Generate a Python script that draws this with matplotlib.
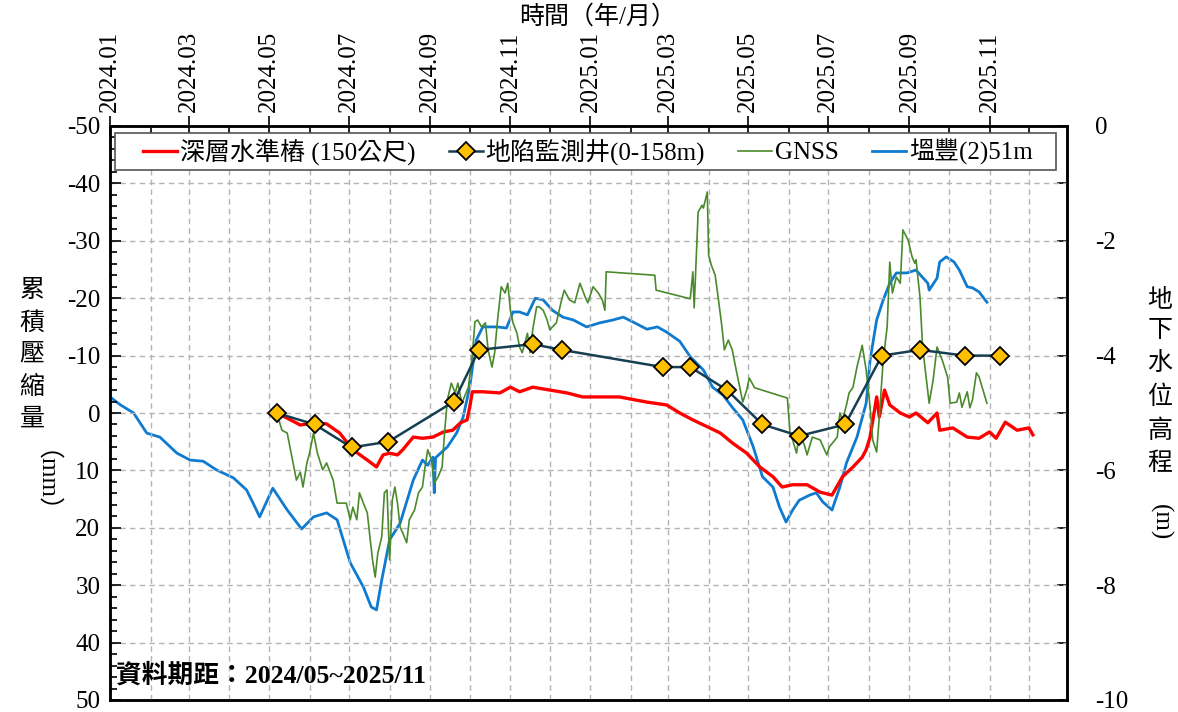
import matplotlib
matplotlib.use("Agg")
import matplotlib.pyplot as plt
import matplotlib.dates as mdates
from matplotlib.ticker import MultipleLocator, FixedLocator
from matplotlib.patches import Rectangle
import pandas as pd

plt.rcParams['font.family'] = ['Liberation Serif', 'Noto Sans CJK TC']
plt.rcParams['axes.unicode_minus'] = False

START = pd.Timestamp('2024-01-01')

# ---- data (dates as day offsets from 2024-01-01) ----
red_days = [127, 135, 145, 155, 165, 175, 185, 196, 203, 208, 213, 219, 223, 231, 238, 246, 254, 261,
            267, 272, 274, 276, 284, 297, 305, 312, 322, 335, 348, 360, 373, 388, 409, 424, 434, 444,
            455, 465, 474, 485, 495, 505, 512, 520, 531, 541, 550, 558, 566, 573, 576, 579, 584, 586,
            590, 594, 602, 609, 614, 623, 630, 632, 642, 653, 662, 670, 675, 682, 691, 700, 703]
red_vals = [0.0, 0.9, 2.1, 1.7, 1.9, 3.5, 6.4, 8.2, 9.4, 7.3, 7.0, 7.3, 6.4, 4.2, 4.4, 4.2, 3.3, 3.0,
            1.7, 1.2, -1.0, -3.7, -3.7, -3.5, -4.5, -3.7, -4.5, -4.0, -3.5, -2.8, -2.8, -2.8, -1.9, -1.4, 0.0, 1.2,
            2.4, 3.5, 5.2, 7.0, 9.4, 11.1, 12.9, 12.5, 12.5, 13.8, 14.3, 11.1, 9.4, 7.7, 6.4, 4.2, -2.8, 0.7,
            -4.0, -1.4, 0.0, 0.7, 0.0, 1.7, 0.0, 3.0, 2.6, 4.2, 4.4, 3.3, 4.4, 1.6, 3.0, 2.6, 3.8]

well_days = [127, 156, 184, 212, 262, 281, 322, 344, 421, 442, 470, 497, 525, 560, 588, 617, 651, 678]
well_vals = [0, 2, 6, 5, -2, -11, -12, -11, -8, -8, -4, 2, 4, 2, -10, -11, -10, -10]

gnss_days = [127, 131, 135, 139, 142, 145, 147, 150, 152, 155, 158, 162, 165, 168, 170, 173, 180, 183,
             185, 188, 190, 193, 196, 198, 200, 202, 204, 207, 209, 211, 213, 215, 217, 219, 221, 223,
             226, 228, 232, 235, 238, 240, 242, 245, 247, 250, 253, 255, 257, 260, 263, 265, 268, 270,
             273, 276, 278, 280, 283, 286, 288, 291, 293, 295, 298, 301, 303, 305, 307, 310, 312, 314,
             318, 320, 322, 325, 327, 330, 333, 335, 340, 344, 346, 350, 354, 358, 362, 364, 368, 372,
             375, 377, 378, 415, 416, 442, 444, 445, 448, 451, 452, 455, 456, 458, 461, 463, 466, 468,
             471, 474, 477, 482, 485, 487, 491, 516, 518, 520, 523, 525, 529, 531, 535, 541, 546, 548,
             554, 556, 558, 561, 563, 566, 569, 573, 576, 579, 581, 584, 586, 589, 592, 594, 596, 599,
             602, 604, 608, 611, 613, 614, 617, 619, 622, 624, 627, 630, 634, 638, 640, 645, 647, 649,
             653, 655, 657, 660, 662, 665, 668]
gnss_vals = [0.0, 3.0, 3.5, 8.2, 11.7, 10.3, 12.9, 8.7, 7.0, 3.5, 7.0, 9.9, 8.7, 10.5, 11.7, 15.7, 15.7, 18.6,
             16.4, 18.6, 13.9, 15.7, 17.4, 21.6, 25.6, 28.6, 24.4, 21.6, 13.9, 13.4, 25.6, 15.2, 12.9, 15.7, 19.9, 20.9,
             22.6, 18.6, 16.9, 13.9, 12.9, 9.4, 6.4, 8.2, 12.2, 11.1, 9.4, 3.0, -2.3, -5.2, -3.5, -5.2, -1.7, -2.8,
             -4.5, -10.1, -15.9, -16.2, -15.0, -15.7, -11.0, -8.0, -10.5, -15.7, -22.0, -20.9, -22.6, -17.9, -15.7, -13.9, -11.5, -10.5,
             -13.9, -10.5, -14.5, -18.5, -18.5, -17.9, -16.2, -14.5, -15.7, -19.7, -21.4, -19.7, -19.2, -22.6, -20.2, -19.2, -22.0, -20.9,
             -19.7, -17.9, -24.6, -24.0, -21.4, -19.9, -24.6, -18.3, -35.0, -36.2, -35.7, -38.5, -27.5, -25.8, -24.0, -20.6, -15.3, -11.0,
             -12.7, -11.0, -7.5, -1.9, -4.0, -6.1, -4.4, -2.6, 3.5, 4.7, 7.0, 3.5, 5.6, 7.3, 4.2, 4.7, 7.3, 5.9,
             4.2, 0.0, 1.2, -1.4, -3.5, -4.5, -8.0, -11.8, -7.5, -1.0, 4.7, 6.8, 0.7, -9.2, -15.0, -26.3, -20.9, -23.7,
             -22.6, -31.9, -30.1, -27.2, -26.1, -26.7, -20.2, -11.5, -5.7, -1.7, -5.7, -11.5, -9.2, -6.3, -1.7, -1.9, -3.5, -1.0,
             -3.7, -0.9, -2.3, -7.0, -6.3, -4.0, -1.7]

blue_days = [0, 8, 18, 28, 38, 51, 61, 71, 81, 94, 104, 109, 114, 124, 135, 146, 155, 165, 173, 183,
             193, 199, 203, 207, 213, 221, 231, 238, 242, 246, 247, 248, 257, 264, 269, 274, 279, 284,
             295, 302, 307, 312, 318, 324, 330, 337, 345, 353, 363, 373, 383, 391, 398, 409, 417, 424,
             434, 442, 452, 459, 467, 474, 482, 490, 497, 505, 510, 515, 520, 525, 533, 538, 543, 550,
             556, 561, 569, 576, 579, 584, 589, 594, 599, 607, 614, 623, 624, 630, 632, 637, 643, 647,
             653, 657, 662, 668]
blue_vals = [-4.72, -4.86, -5.00, -5.35, -5.42, -5.70, -5.82, -5.84, -5.99, -6.13, -6.34, -6.57, -6.81, -6.31,
             -6.69, -7.02, -6.81, -6.74, -6.86, -7.61, -8.03, -8.38, -8.43, -7.91, -7.21, -6.92, -6.17, -5.82,
             -5.91, -5.77, -6.39, -5.78, -5.59, -5.35, -5.07, -4.55, -3.73, -3.50, -3.50, -3.52, -3.24, -3.24,
             -3.29, -3.00, -3.03, -3.21, -3.33, -3.38, -3.50, -3.43, -3.38, -3.33, -3.41, -3.54, -3.50, -3.59,
             -3.75, -4.02, -4.25, -4.55, -4.69, -4.90, -5.12, -5.59, -6.11, -6.29, -6.64, -6.90, -6.69, -6.52,
             -6.43, -6.39, -6.55, -6.69, -6.29, -5.87, -5.42, -4.83, -4.08, -3.38, -3.03, -2.74, -2.56, -2.56,
             -2.51, -2.74, -2.86, -2.65, -2.37, -2.28, -2.37, -2.51, -2.80, -2.82, -2.89, -3.07]

labels = ['深層水準樁 (150公尺)', '地陷監測井(0-158m)', 'GNSS', '塭豐(2)51m']
x_tick_months = ['2024-01', '2024-03', '2024-05', '2024-07', '2024-09', '2024-11',
                 '2025-01', '2025-03', '2025-05', '2025-07', '2025-09', '2025-11']


def to_dates(days):
    return START + pd.to_timedelta(days, unit='D')


RED = '#ff0000'
DARK = '#173f52'
GOLD = '#ffc000'
GREEN = '#4a8a2c'
BLUE = '#0f7bd0'
GRID = '#b4b4b4'
FS = 18

fig = plt.figure(figsize=(11.78, 7.12), dpi=100)
W, H = 1178, 712
L, R, T, B = 110, 1067, 126, 700
ax = fig.add_axes([L / W, (H - B) / H, (R - L) / W, (B - T) / H])
ax2 = ax.twinx()
ax.set_zorder(2)
ax2.set_zorder(1)
ax.patch.set_visible(False)

# blue on right axis
lb, = ax2.plot(to_dates(blue_days), blue_vals, color=BLUE, lw=2.0, label=labels[3])
lr, = ax.plot(to_dates(red_days), red_vals, color=RED, lw=2.4, label=labels[0], zorder=3)
lg, = ax.plot(to_dates(gnss_days), gnss_vals, color=GREEN, lw=1.2, label=labels[2], zorder=4)
lw_, = ax.plot(to_dates(well_days), well_vals, color=DARK, lw=1.8, marker='D', markersize=9,
               markerfacecolor=GOLD, markeredgecolor='black', markeredgewidth=1.3,
               label=labels[1], zorder=5)

# axes limits
ax.set_xlim(pd.Timestamp('2024-01-01'), pd.Timestamp('2025-12-30'))
ax.set_ylim(50, -50)
ax2.set_ylim(-10, 0)

# x axis on top
ax.xaxis.tick_top()
ax.xaxis.set_major_locator(FixedLocator(mdates.date2num(pd.to_datetime(x_tick_months))))
ax.xaxis.set_minor_locator(mdates.MonthLocator(bymonth=[2, 4, 6, 8, 10, 12]))
ax.set_xticklabels([m.replace('-', '.') for m in x_tick_months], rotation=90, fontsize=FS)
ax.tick_params(axis='x', which='major', direction='inout', length=14, width=1.2, pad=3,
               top=True, bottom=False)
ax.tick_params(axis='x', which='minor', direction='in', length=6, width=1.2, top=True, bottom=False)

# left y
ax.yaxis.set_major_locator(MultipleLocator(10))
ax.yaxis.set_minor_locator(MultipleLocator(2))
ax.tick_params(axis='y', which='major', direction='in', length=8, width=1.2, labelsize=FS, pad=7)
ax.tick_params(axis='y', which='minor', direction='in', length=5, width=1.2)

# right y
ax2.yaxis.set_major_locator(MultipleLocator(2))
ax2.yaxis.set_minor_locator(MultipleLocator(1))
ax2.tick_params(axis='y', which='both', direction='in', length=7, width=1.2, labelsize=FS, pad=20)
ax2.set_yticklabels([f'{int(v)}' for v in ax2.get_yticks()])

for a in (ax, ax2):
    for s in a.spines.values():
        s.set_linewidth(1.8)
        s.set_color('black')

ax.grid(which='both', axis='x', color=GRID, ls=(0, (4, 3)), lw=1.0)
ax.grid(which='major', axis='y', color=GRID, ls=(0, (4, 3)), lw=1.0)
ax.set_axisbelow(True)

# legend frame (drawn separately) and legend
ax.add_patch(Rectangle((115 / W, 1 - 170 / H), (1056 - 115) / W, 37 / H, transform=fig.transFigure,
                       facecolor='white', edgecolor='#555555', lw=1.2, zorder=9, clip_on=False))
leg = ax.legend(handles=[lr, lw_, lg, lb], labels=labels, ncol=4, loc='center left',
                bbox_to_anchor=((143 - L) / (R - L), (B - 151.5) / (B - T)), borderaxespad=0,
                borderpad=0, fontsize=FS, frameon=False,
                handlelength=1.36, handletextpad=0.12, columnspacing=1.32)
leg.set_zorder(10)

# titles and labels
fig.text(598 / W, 1 - 17 / H, '時間（年/月）', ha='center', va='center', fontsize=FS)
fig.text(32 / W, 1 - 280 / H, '累\n積\n壓\n縮\n量', ha='center', va='top', fontsize=FS,
         linespacing=1.55)
fig.text(32 / W, 1 - 495 / H, '（mm）', ha='center', va='center', fontsize=FS, rotation=-90)
fig.text(1160 / W, 1 - 288 / H, '地\n下\n水\n位\n高\n程', ha='center', va='top', fontsize=FS,
         linespacing=1.55)
fig.text(1160 / W, 1 - 522 / H, '(m)', ha='center', va='center', fontsize=FS, rotation=-90)

ax.text((116 - L) / (R - L), (B - 675) / (B - T), '資料期距：2024/05~2025/11', transform=ax.transAxes,
        ha='left', va='center', fontsize=18.5, fontweight='bold', zorder=10)

fig.savefig('out.png', dpi=100, facecolor='white')
